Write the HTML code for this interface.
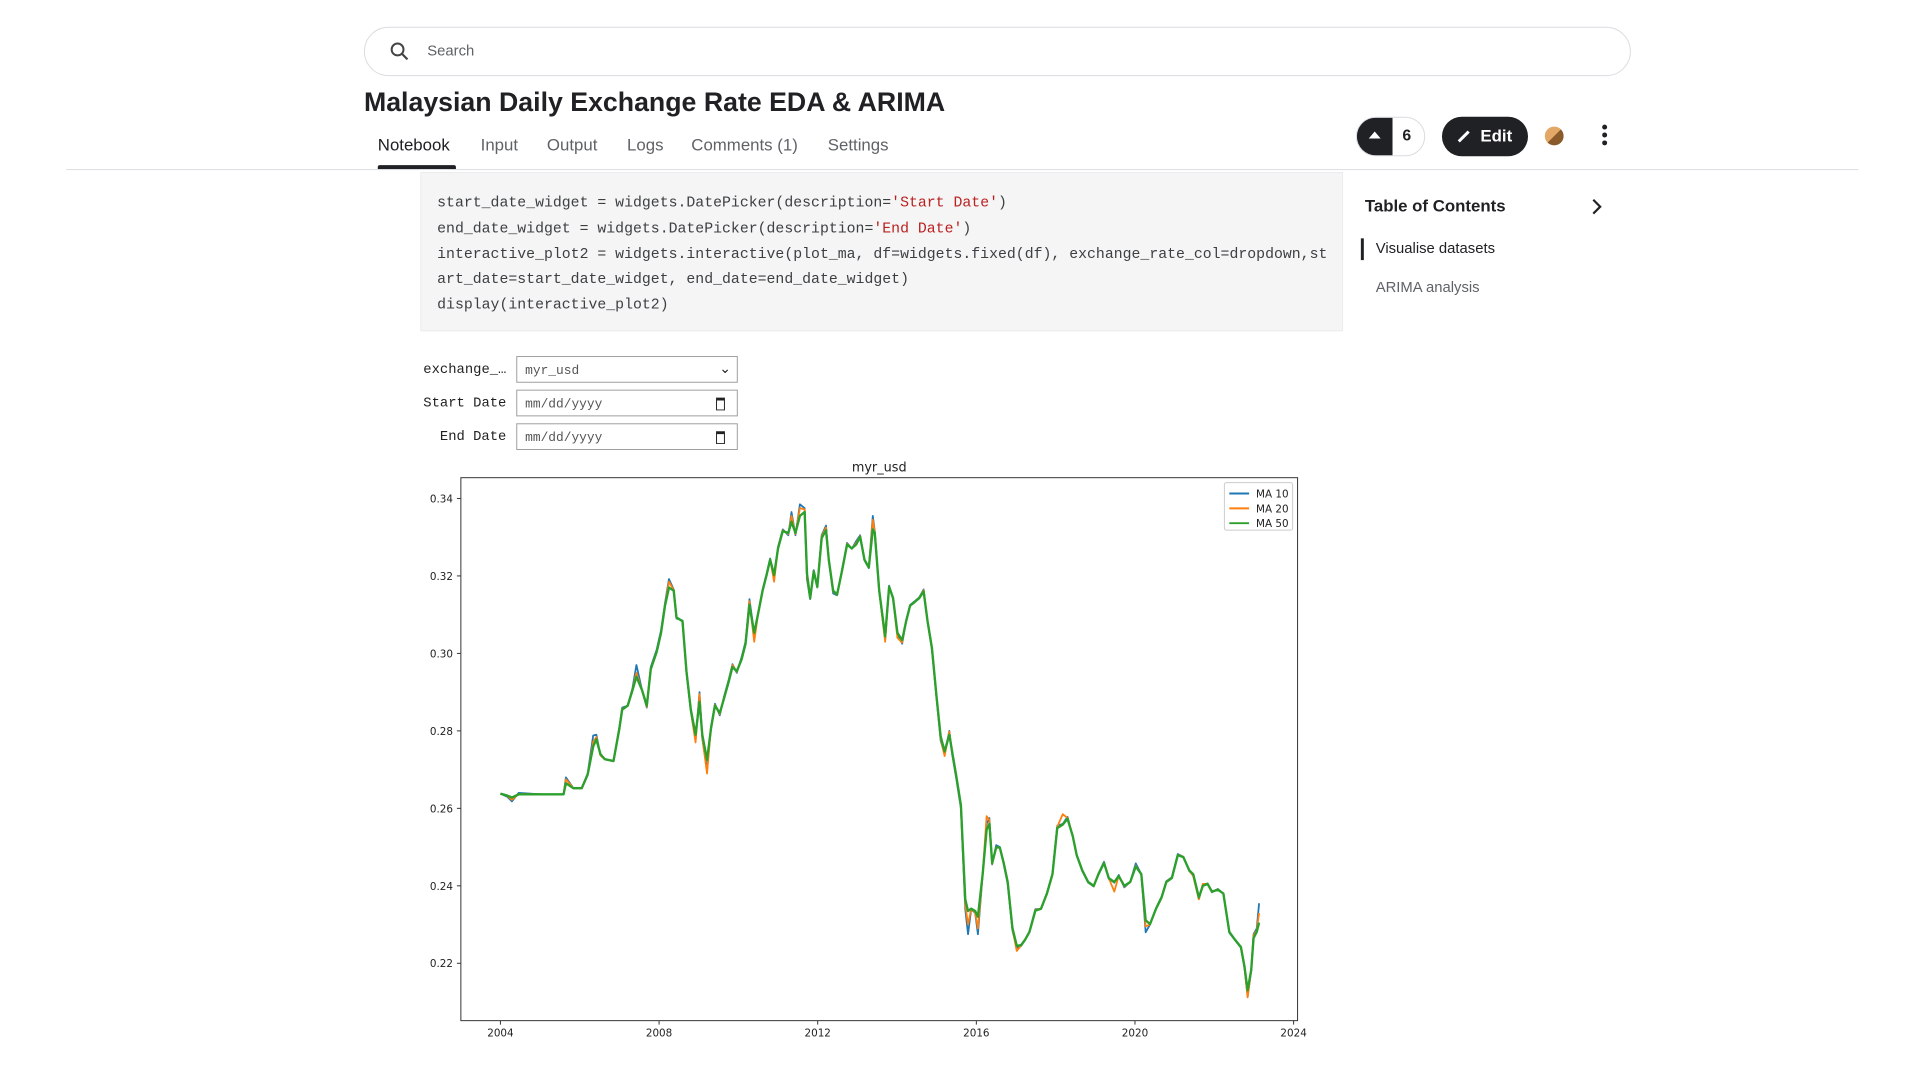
<!DOCTYPE html>
<html><head><meta charset="utf-8">
<style>
body{margin:0;width:1920px;height:1080px;background:#fff;position:relative;overflow:hidden;font-family:"Liberation Sans",sans-serif;color:#202124}
#wrap{position:absolute;left:0;top:0;width:1947px;height:1095px;transform:scale(0.989);transform-origin:0 0}
.abs{position:absolute}
.tab{position:absolute;top:137px;font-size:17px;color:#5f6368}
.code{position:absolute;left:442px;font-family:"Liberation Mono",monospace;font-size:15px;color:#3c4043;white-space:pre}
.s{color:#ba2121}
.lbl{position:absolute;width:90px;text-align:right;left:422px;font-family:"Liberation Mono",monospace;font-size:14px;color:#222}
.inp{position:absolute;left:522px;width:224px;height:27px;border:1px solid #9e9e9e;box-sizing:border-box;font-family:"Liberation Mono",monospace;font-size:13px;color:#555;padding:6px 8px}
</style></head><body>
<div id="wrap">
<div class="abs" style="left:368px;top:27px;width:1281px;height:50px;border:1px solid #dadce0;border-radius:26px;box-sizing:border-box"></div>
<svg class="abs" style="left:393px;top:41px" width="22" height="22" viewBox="0 0 22 22"><circle cx="9" cy="9" r="6" fill="none" stroke="#444" stroke-width="2"/><line x1="13.5" y1="13.5" x2="19" y2="19" stroke="#444" stroke-width="2.2"/></svg>
<div class="abs" style="left:432px;top:43px;font-size:15px;color:#5f6368">Search</div>
<div class="abs" style="left:368px;top:88px;font-size:27px;font-weight:bold">Malaysian Daily Exchange Rate EDA &amp; ARIMA</div>
<div class="tab" style="left:382px;color:#202124">Notebook</div>
<div class="abs" style="left:382px;top:167px;width:79px;height:4px;background:#202124;border-radius:2px 2px 0 0"></div>
<div class="tab" style="left:486px">Input</div>
<div class="tab" style="left:553px">Output</div>
<div class="tab" style="left:634px">Logs</div>
<div class="tab" style="left:699px">Comments (1)</div>
<div class="tab" style="left:837px">Settings</div>
<div class="abs" style="left:67px;top:171px;width:1812px;height:1px;background:#dadce0"></div>
<div class="abs" style="left:1371px;top:118px;width:70px;height:40px;border:1px solid #dadce0;border-radius:20px;box-sizing:border-box;overflow:hidden">
 <div style="position:absolute;left:0;top:0;width:36px;height:40px;background:#202124"></div>
 <div style="position:absolute;left:12px;top:14px;width:0;height:0;border-left:6px solid transparent;border-right:6px solid transparent;border-bottom:7px solid #fff"></div>
 <div style="position:absolute;left:46px;top:10px;font-size:16px;font-weight:bold">6</div>
</div>
<div class="abs" style="left:1458px;top:118px;width:87px;height:40px;background:#202124;border-radius:20px;color:#fff;font-weight:bold;font-size:17px;line-height:40px;text-align:right;padding-right:16px;box-sizing:border-box">Edit</div>
<svg class="abs" style="left:1472px;top:130px" width="16" height="16"><line x1="3" y1="13" x2="13" y2="3" stroke="#fff" stroke-width="3"/></svg>
<div class="abs" style="left:1562px;top:128px;width:19px;height:19px;border-radius:50%;background:linear-gradient(135deg,#e3a868 50%,#8b5a2b 50%)"></div>
<div class="abs" style="left:1620px;top:126px;width:6px;font-size:0">
 <div style="width:5px;height:5px;border-radius:50%;background:#202124;margin-bottom:3px"></div><div style="width:5px;height:5px;border-radius:50%;background:#202124;margin-bottom:3px"></div><div style="width:5px;height:5px;border-radius:50%;background:#202124"></div></div>
<div class="abs" style="left:425px;top:174px;width:933px;height:161px;background:#f5f5f5;border:1px solid #ececec;box-sizing:border-box"></div>
<div class="code" style="top:197px">start_date_widget = widgets.DatePicker(description=<span class="s">'Start Date'</span>)</div>
<div class="code" style="top:223px">end_date_widget = widgets.DatePicker(description=<span class="s">'End Date'</span>)</div>
<div class="code" style="top:249px">interactive_plot2 = widgets.interactive(plot_ma, df=widgets.fixed(df), exchange_rate_col=dropdown,st</div>
<div class="code" style="top:274px">art_date=start_date_widget, end_date=end_date_widget)</div>
<div class="code" style="top:300px">display(interactive_plot2)</div>
<div class="abs" style="left:1380px;top:199px;font-size:17px;font-weight:bold">Table of Contents</div>
<svg class="abs" style="left:1606px;top:199px" width="16" height="20"><polyline points="5,3 12,10 5,17" fill="none" stroke="#202124" stroke-width="2.2"/></svg>
<div class="abs" style="left:1376px;top:241px;width:3px;height:22px;background:#202124"></div>
<div class="abs" style="left:1391px;top:243px;font-size:15px;color:#202124">Visualise datasets</div>
<div class="abs" style="left:1391px;top:282px;font-size:15px;color:#5f6368">ARIMA analysis</div>
<div class="lbl" style="top:366px">exchange_…</div>
<div class="inp" style="top:360px">myr_usd<span style="position:absolute;right:6px;top:4px;font-size:14px;color:#222">&#8964;</span></div>
<div class="lbl" style="top:400px">Start Date</div>
<div class="inp" style="top:394px">mm/dd/yyyy<span style="position:absolute;right:12px;top:7px;width:7px;height:9px;border:1.5px solid #222;border-top-width:3px"></span></div>
<div class="lbl" style="top:434px">End Date</div>
<div class="inp" style="top:428px">mm/dd/yyyy<span style="position:absolute;right:12px;top:7px;width:7px;height:9px;border:1.5px solid #222;border-top-width:3px"></span></div>

<svg id="chart" class="abs" style="left:0;top:-1px" width="1920" height="1080"></svg>
</div>
<script>
const years=[2004.00,2004.17,2004.29,2004.46,2005.04,2005.59,2005.65,2005.84,2006.05,2006.20,2006.34,2006.42,2006.52,2006.63,2006.85,2007.00,2007.07,2007.21,2007.33,2007.43,2007.57,2007.69,2007.79,2007.94,2008.05,2008.15,2008.25,2008.37,2008.44,2008.59,2008.69,2008.80,2008.92,2009.02,2009.09,2009.21,2009.31,2009.41,2009.53,2009.64,2009.75,2009.85,2009.96,2010.08,2010.18,2010.28,2010.40,2010.50,2010.61,2010.71,2010.80,2010.90,2011.00,2011.12,2011.26,2011.34,2011.44,2011.55,2011.67,2011.73,2011.81,2011.90,2011.99,2012.10,2012.21,2012.28,2012.39,2012.49,2012.61,2012.74,2012.86,2012.97,2013.07,2013.18,2013.29,2013.39,2013.44,2013.55,2013.70,2013.80,2013.90,2014.01,2014.13,2014.23,2014.33,2014.45,2014.56,2014.67,2014.77,2014.88,2015.00,2015.10,2015.20,2015.32,2015.39,2015.49,2015.61,2015.72,2015.79,2015.87,2015.97,2016.04,2016.16,2016.26,2016.33,2016.40,2016.50,2016.59,2016.69,2016.79,2016.91,2017.02,2017.13,2017.23,2017.34,2017.49,2017.63,2017.78,2017.92,2018.04,2018.18,2018.30,2018.43,2018.53,2018.67,2018.82,2018.96,2019.08,2019.22,2019.34,2019.48,2019.59,2019.73,2019.88,2020.02,2020.16,2020.27,2020.38,2020.53,2020.67,2020.79,2020.93,2021.08,2021.22,2021.37,2021.47,2021.61,2021.71,2021.83,2021.94,2022.09,2022.23,2022.38,2022.52,2022.67,2022.76,2022.84,2022.93,2022.99,2023.07,2023.13];
const ma10=[0.2638,0.2630,0.2618,0.2640,0.2636,0.2636,0.2680,0.2652,0.2652,0.2690,0.2788,0.2790,0.2737,0.2727,0.2722,0.2810,0.2860,0.2865,0.2910,0.2970,0.2905,0.2860,0.2965,0.3010,0.3060,0.3130,0.3192,0.3165,0.3090,0.3085,0.2950,0.2850,0.2776,0.2900,0.2780,0.2700,0.2810,0.2870,0.2840,0.2890,0.2930,0.2972,0.2950,0.2990,0.3030,0.3140,0.3050,0.3105,0.3165,0.3205,0.3245,0.3200,0.3275,0.3320,0.3305,0.3365,0.3305,0.3385,0.3375,0.3190,0.3140,0.3215,0.3170,0.3305,0.3330,0.3240,0.3155,0.3150,0.3215,0.3285,0.3270,0.3290,0.3305,0.3240,0.3220,0.3355,0.3315,0.3160,0.3035,0.3175,0.3140,0.3050,0.3025,0.3085,0.3125,0.3135,0.3145,0.3165,0.3080,0.3010,0.2880,0.2775,0.2740,0.2800,0.2740,0.2680,0.2600,0.2340,0.2275,0.2340,0.2330,0.2275,0.2430,0.2560,0.2575,0.2455,0.2505,0.2500,0.2455,0.2405,0.2285,0.2240,0.2245,0.2260,0.2282,0.2340,0.2340,0.2382,0.2432,0.2555,0.2560,0.2578,0.2528,0.2478,0.2438,0.2408,0.2398,0.2432,0.2462,0.2418,0.2408,0.2428,0.2396,0.2410,0.2458,0.2430,0.2280,0.2300,0.2342,0.2372,0.2412,0.2422,0.2482,0.2475,0.2438,0.2428,0.2366,0.2402,0.2406,0.2383,0.2392,0.2380,0.2279,0.2260,0.2240,0.2188,0.2115,0.2180,0.2275,0.2290,0.2355];
const ma20=[0.2638,0.2632,0.2622,0.2637,0.2636,0.2636,0.2675,0.2652,0.2652,0.2688,0.2772,0.2784,0.2737,0.2727,0.2722,0.2808,0.2857,0.2865,0.2907,0.2950,0.2905,0.2862,0.2961,0.3006,0.3055,0.3125,0.3185,0.3163,0.3092,0.3083,0.2952,0.2853,0.2770,0.2895,0.2783,0.2690,0.2808,0.2867,0.2843,0.2887,0.2927,0.2970,0.2952,0.2986,0.3026,0.3135,0.3030,0.3104,0.3163,0.3203,0.3243,0.3185,0.3273,0.3318,0.3308,0.3355,0.3308,0.3375,0.3372,0.3195,0.3142,0.3213,0.3171,0.3302,0.3325,0.3241,0.3160,0.3151,0.3213,0.3283,0.3271,0.3285,0.3303,0.3241,0.3221,0.3345,0.3313,0.3161,0.3030,0.3173,0.3142,0.3040,0.3028,0.3084,0.3124,0.3134,0.3144,0.3163,0.3082,0.3012,0.2883,0.2780,0.2735,0.2798,0.2744,0.2684,0.2605,0.2352,0.2300,0.2341,0.2331,0.2290,0.2430,0.2580,0.2570,0.2457,0.2500,0.2499,0.2457,0.2408,0.2288,0.2232,0.2246,0.2261,0.2281,0.2338,0.2341,0.2381,0.2431,0.2552,0.2585,0.2575,0.2530,0.2479,0.2439,0.2409,0.2399,0.2431,0.2460,0.2420,0.2385,0.2426,0.2398,0.2410,0.2452,0.2430,0.2295,0.2300,0.2341,0.2371,0.2411,0.2421,0.2480,0.2475,0.2439,0.2425,0.2365,0.2405,0.2405,0.2384,0.2391,0.2380,0.2280,0.2261,0.2241,0.2190,0.2112,0.2181,0.2272,0.2285,0.2330];
const ma50=[0.2638,0.2633,0.2628,0.2636,0.2636,0.2636,0.2665,0.2652,0.2652,0.2687,0.2760,0.2778,0.2740,0.2727,0.2722,0.2806,0.2855,0.2865,0.2905,0.2940,0.2905,0.2865,0.2959,0.3004,0.3053,0.3123,0.3170,0.3162,0.3093,0.3083,0.2954,0.2855,0.2790,0.2875,0.2790,0.2725,0.2806,0.2865,0.2846,0.2885,0.2925,0.2965,0.2954,0.2984,0.3024,0.3125,0.3053,0.3103,0.3162,0.3202,0.3242,0.3202,0.3271,0.3316,0.3311,0.3340,0.3311,0.3355,0.3365,0.3205,0.3143,0.3212,0.3172,0.3298,0.3318,0.3242,0.3162,0.3152,0.3212,0.3281,0.3271,0.3281,0.3301,0.3242,0.3222,0.3320,0.3311,0.3162,0.3044,0.3172,0.3143,0.3053,0.3034,0.3083,0.3123,0.3133,0.3143,0.3160,0.3083,0.3014,0.2885,0.2786,0.2747,0.2790,0.2747,0.2687,0.2608,0.2365,0.2335,0.2341,0.2335,0.2320,0.2430,0.2545,0.2560,0.2459,0.2499,0.2499,0.2459,0.2410,0.2291,0.2245,0.2247,0.2261,0.2281,0.2336,0.2341,0.2380,0.2430,0.2549,0.2558,0.2573,0.2529,0.2479,0.2440,0.2410,0.2400,0.2430,0.2459,0.2420,0.2410,0.2425,0.2400,0.2410,0.2450,0.2430,0.2311,0.2301,0.2341,0.2370,0.2410,0.2420,0.2479,0.2474,0.2440,0.2430,0.2370,0.2400,0.2405,0.2385,0.2390,0.2380,0.2281,0.2261,0.2242,0.2192,0.2130,0.2182,0.2265,0.2281,0.2305];
const xTicks=[2004,2008,2012,2016,2020,2024];
const yTicks=[0.22,0.24,0.26,0.28,0.30,0.32,0.34];
const seriesNames=["MA 10","MA 20","MA 50"];
const seriesColors=["#1f77b4","#ff7f0e","#2ca02c"];

const svg=document.getElementById('chart');
const NS='http://www.w3.org/2000/svg';
const L=466,R=1312,T=484,B=1033;
const xs=y=>506+(y-2004)*(1308-506)/20;
const ys=v=>975-(v-0.22)*(975-505)/0.12;
function mk(tag,attrs,txt){const e=document.createElementNS(NS,tag);for(const k in attrs)e.setAttribute(k,attrs[k]);if(txt!==undefined)e.textContent=txt;svg.appendChild(e);return e;}
const ttl=mk('text',{x:(L+R)/2,y:478,'text-anchor':'middle','font-size':13,'font-family':'DejaVu Sans, sans-serif',fill:'#222'},'myr_usd');


xTicks.forEach(t=>{
 const tl=mk('line',{x1:xs(t),x2:xs(t),y1:B,y2:B+4,stroke:'#333','stroke-width':1});
 
 
 const tx=mk('text',{x:xs(t),y:B+16,'text-anchor':'middle','font-size':10.5,'font-family':'DejaVu Sans, sans-serif',fill:'#222'},String(t));
 
 
});
yTicks.forEach(t=>{
 const tl=mk('line',{x1:L-4,x2:L,y1:ys(t),y2:ys(t),stroke:'#333','stroke-width':1});
 
 
 const tx=mk('text',{x:L-8,y:ys(t)+4,'text-anchor':'end','font-size':10.5,'font-family':'DejaVu Sans, sans-serif',fill:'#222'},t.toFixed(2));
 
 
});
[ma10,ma20,ma50].forEach((s,i)=>{
 const d=s.map((v,j)=>(j?'L':'M')+xs(years[j]).toFixed(1)+','+ys(v).toFixed(1)).join(' ');
 const p=mk('path',{d:d,fill:'none',stroke:seriesColors[i],'stroke-width':i==2?2.4:1.8,'stroke-linejoin':'round'});
 
 
});
const frame=mk('rect',{x:L,y:T,width:R-L,height:B-T,fill:'none',stroke:'#333','stroke-width':1});


const lg=mk('rect',{x:1238,y:489,width:69,height:48,fill:'#fff','fill-opacity':0.8,stroke:'#ccc',rx:2});


seriesNames.forEach((n,i)=>{
 const y=500+i*15;
 const ll=mk('line',{x1:1243,x2:1263,y1:y,y2:y,stroke:seriesColors[i],'stroke-width':2});
 
 
 const lt=mk('text',{x:1270,y:y+4,'font-size':10.5,'font-family':'DejaVu Sans, sans-serif',fill:'#222'},n);
 
 
});
</script>
</body></html>
